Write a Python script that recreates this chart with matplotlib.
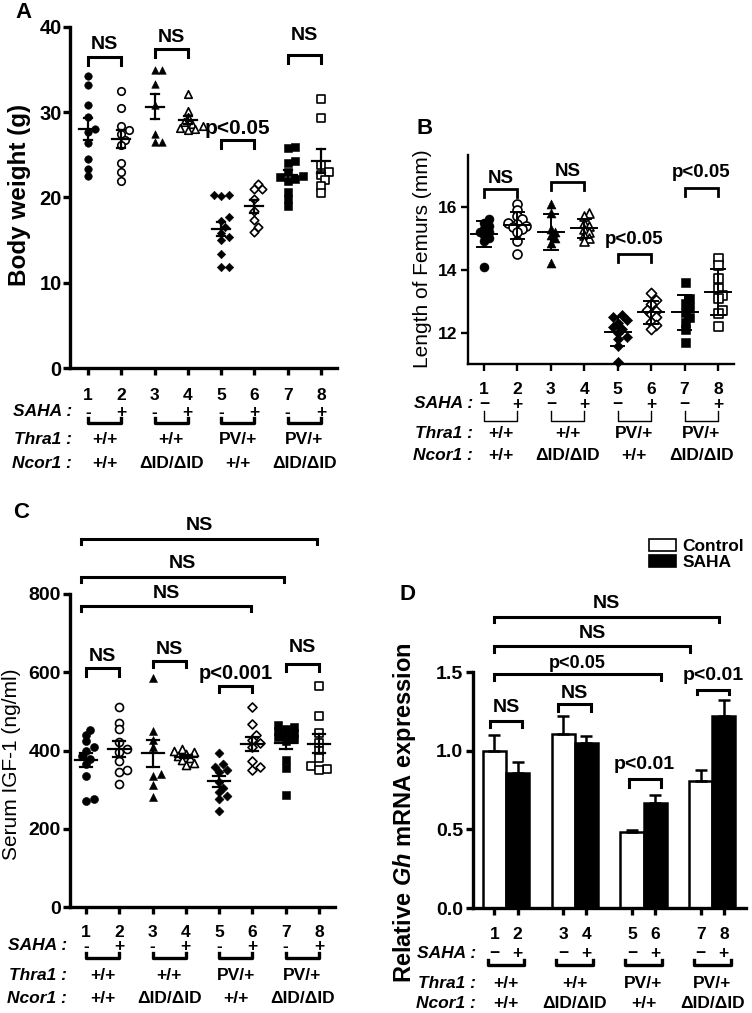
import numpy as np
import matplotlib
matplotlib.use('Agg')
import matplotlib.pyplot as plt
import matplotlib.transforms as mtransforms
from matplotlib.patches import Patch

plt.rcParams['font.family'] = ['Liberation Sans', 'DejaVu Sans']
plt.rcParams['mathtext.fontset'] = 'custom'
plt.rcParams['mathtext.rm'] = 'Liberation Sans:bold'
plt.rcParams['mathtext.it'] = 'Liberation Sans:italic:bold'

W, H = 752, 1013

# ---- shared labels ----
groups = [1, 2, 3, 4, 5, 6, 7, 8]
saha = ['-', '+', '-', '+', '-', '+', '-', '+']
thra1 = ['+/+', '+/+', 'PV/+', 'PV/+']
ncor1 = ['+/+', 'ΔID/ΔID', '+/+', 'ΔID/ΔID']

# ---- A: body weight (g) ----
bw_g1 = [34.2, 33.2, 30.9, 29.4, 28.0, 27.7, 26.4, 24.5, 23.4, 22.5]
bw_g2 = [32.5, 30.5, 28.4, 27.9, 27.5, 26.7, 26.1, 24.0, 23.0, 21.9]
bw_g3 = [34.9, 34.9, 33.3, 30.9, 27.5, 26.5, 26.5]
bw_g4 = [32.1, 30.2, 29.4, 28.8, 28.6, 28.4, 28.2, 28.0, 27.9]
bw_g5 = [20.3, 20.3, 20.2, 17.7, 17.2, 16.5, 15.8, 15.4, 15.0, 13.4, 11.9, 11.9]
bw_g6 = [21.6, 21.0, 21.0, 19.8, 18.4, 17.4, 16.5, 15.9]
bw_g7 = [25.9, 25.8, 24.3, 24.1, 23.0, 22.5, 22.4, 22.2, 21.9, 20.7, 19.8, 19.0]
bw_g8 = [31.6, 29.3, 23.8, 23.0, 22.6, 22.0, 21.4, 20.5]

# ---- B: femur length (mm) ----
fl_g1 = [15.6, 15.5, 15.4, 15.3, 15.2, 15.2, 15.1, 15.0, 14.9, 14.1]
fl_g2 = [16.1, 15.9, 15.7, 15.6, 15.5, 15.45, 15.4, 15.35, 15.3, 15.2, 14.9, 14.5]
fl_g3 = [16.1, 15.8, 15.3, 15.2, 15.1, 15.0, 14.85, 14.2]
fl_g4 = [15.8, 15.7, 15.5, 15.4, 15.3, 15.2, 15.1, 15.0, 14.9]
fl_g5 = [12.57, 12.48, 12.41, 12.32, 12.19, 12.1, 12.0, 11.87, 11.78, 11.56, 11.05]
fl_g6 = [13.27, 13.05, 12.9, 12.73, 12.7, 12.6, 12.5, 12.35, 12.25, 12.1]
fl_g7 = [13.6, 13.1, 12.95, 12.8, 12.67, 12.5, 12.35, 12.1, 11.7]
fl_g8 = [14.38, 14.16, 13.75, 13.43, 13.2, 13.1, 12.73, 12.62, 12.2]

# ---- C: serum IGF-1 (ng/ml) ----
igf_g1 = [452, 440, 425, 410, 400, 385, 378, 365, 335, 272, 275]
igf_g2 = [512, 470, 455, 421, 404, 396, 374, 349, 345, 315]
igf_g3 = [585, 451, 428, 410, 340, 336, 311, 280]
igf_g4 = [405, 398, 395, 392, 386, 380, 375, 368, 362]
igf_g5 = [393, 366, 358, 350, 345, 320, 305, 294, 283, 275, 245]
igf_g6 = [511, 468, 440, 428, 418, 410, 374, 357, 349]
igf_g7 = [465, 460, 455, 450, 445, 440, 435, 430, 425, 375, 355, 285]
igf_g8 = [565, 489, 445, 420, 400, 380, 360, 352, 350]

# ---- D: relative Gh mRNA ----
gh_mean = [1.0, 0.857, 1.108, 1.05, 0.48, 0.67, 0.81, 1.22]
gh_err = [0.10, 0.07, 0.11, 0.045, 0.017, 0.05, 0.07, 0.10]

markers = [('o', True), ('o', False), ('^', True), ('^', False),
           ('D', True), ('D', False), ('s', True), ('s', False)]

fig = plt.figure(figsize=(W / 100, H / 100), dpi=100)


def add_axes_px(l, t, r, b):
    return fig.add_axes([l / W, 1 - b / H, (r - l) / W, (b - t) / H])


def style_axes(ax, lw, fs, pad):
    for s in ['top', 'right']:
        ax.spines[s].set_visible(False)
    for s in ['left', 'bottom']:
        ax.spines[s].set_linewidth(lw)
    ax.tick_params(direction='out', length=5, width=lw, labelsize=fs, pad=pad)
    for t in ax.get_yticklabels():
        t.set_fontweight('bold')


def swarm(ax, x0, ys, d, tight=0.8):
    # simple deterministic beeswarm in pixel space
    pts = ax.transData.transform(np.column_stack([np.full(len(ys), x0), ys]))
    ref = ax.transData.transform([(x0, 0), (x0 + 1, 0)])
    unit = ref[1, 0] - ref[0, 0]
    step = d * 0.5
    placed = []
    offs = np.zeros(len(ys))
    for i in np.argsort(ys):
        py = pts[i, 1]
        off = 0
        for k in range(60):
            off = step * ((k + 1) // 2) * (1 if k % 2 else -1)
            if all((off - o) ** 2 + (py - q) ** 2 >= (tight * d) ** 2 for o, q in placed):
                break
        placed.append((off, py))
        offs[i] = off
    return x0 + offs / unit


def dot_panel(ax, data, d_px, mean_hw, cap_hw, err='sem', lw=1.5, tight=0.8):
    for i, vals in enumerate(data):
        x0 = groups[i]
        vals = np.array(vals, dtype=float)
        xs = swarm(ax, x0, vals, d_px, tight)
        mk, filled = markers[i]
        size = d_px * 0.72 * (0.8 if mk == 'D' else 1.0)
        ax.scatter(xs, vals, s=size ** 2, marker=mk,
                   facecolors='k' if filled else 'white', edgecolors='k',
                   linewidths=0.4 if filled else 1.2, zorder=3, clip_on=False)
        m = vals.mean()
        e = vals.std(ddof=1)
        if err == 'sem':
            e = e / np.sqrt(len(vals))
        ax.plot([x0 - mean_hw, x0 + mean_hw], [m, m], color='k', lw=lw, zorder=4)
        ax.plot([x0, x0], [m - e, m + e], color='k', lw=lw, zorder=4)
        for yy in (m - e, m + e):
            ax.plot([x0 - cap_hw, x0 + cap_hw], [yy, yy], color='k', lw=lw, zorder=4)


def bracket(ax, x1, x2, y, y0, label, ty, fs=14, lw=2.2):
    ax.plot([x1, x1, x2, x2], [y0, y, y, y0], color='k', lw=lw, clip_on=False,
            solid_joinstyle='miter')
    ax.text((x1 + x2) / 2, ty, label, ha='center', va='center', fontsize=fs,
            fontweight='bold', clip_on=False)


def bottom_rows(ax, xs, rows_px, label_right, minus, brk_h, brk_lw, ext=0.0, fs=12.5):
    tr = mtransforms.blended_transform_factory(ax.transData, fig.transFigure)
    y_num, y_saha, y_brk, y_thra, y_ncor = [1 - v / H for v in rows_px]
    h = brk_h / H
    for x, g, s in zip(xs, groups, saha):
        ax.text(x, y_num, str(g), transform=tr, ha='center', va='center',
                fontsize=fs, fontweight='bold')
        ax.text(x, y_saha, s.replace('-', minus), transform=tr, ha='center',
                va='center', fontsize=fs, fontweight='bold')
    for p in range(4):
        x1, x2 = xs[2 * p] - ext, xs[2 * p + 1] + ext
        ax.plot([x1, x1, x2, x2], [y_brk + h, y_brk, y_brk, y_brk + h], color='k',
                lw=brk_lw, transform=tr, clip_on=False)
        xc = (xs[2 * p] + xs[2 * p + 1]) / 2
        ax.text(xc, y_thra, thra1[p], transform=tr, ha='center', va='center',
                fontsize=fs, fontweight='bold')
        ax.text(xc, y_ncor, ncor1[p], transform=tr, ha='center', va='center',
                fontsize=fs, fontweight='bold')
    for lab, yy in [('SAHA :', y_saha), ('Thra1 :', y_thra), ('Ncor1 :', y_ncor)]:
        fig.text(label_right / W, yy, lab, ha='right', va='center', fontsize=fs,
                 fontweight='bold', style='italic')


# ================= Panel A =================
axA = add_axes_px(70, 27, 337, 368)
axA.set_xlim(0.46, 8.48)
axA.set_ylim(0, 40)
axA.set_yticks([0, 10, 20, 30, 40])
axA.set_xticks(groups)
axA.set_xticklabels([])
style_axes(axA, 2.4, 14.5, 1)
dot_panel(axA, [bw_g1, bw_g2, bw_g3, bw_g4, bw_g5, bw_g6, bw_g7, bw_g8],
          7.5, 0.27, 0.12, 'sem', 1.6)
bracket(axA, 1, 2, 36.5, 35.6, 'NS', 37.9)
bracket(axA, 3, 4, 37.4, 36.5, 'NS', 38.8)
bracket(axA, 5, 6, 26.7, 25.8, 'p<0.05', 28.1, fs=15)
bracket(axA, 7, 8, 36.7, 35.8, 'NS', 39.0)
bottom_rows(axA, groups, [395, 412, 423, 440, 463], 72, '-', 5, 2.4)
fig.text(20 / W, 1 - 195 / H, 'Body weight (g)', rotation=90, ha='center',
         va='center', fontsize=17.5, fontweight='bold')
fig.text(23 / W, 1 - 13 / H, 'A', ha='center', va='center', fontsize=16,
         fontweight='bold')

# ================= Panel B =================
axB = add_axes_px(468, 155, 734, 364)
axB.set_xlim(0.52, 8.48)
axB.set_ylim(11.0, 17.65)
axB.set_yticks([12, 14, 16])
axB.set_xticks(groups)
axB.set_xticklabels([])
style_axes(axB, 1.7, 12.5, 3)
dot_panel(axB, [fl_g1, fl_g2, fl_g3, fl_g4, fl_g5, fl_g6, fl_g7, fl_g8],
          9, 0.39, 0.2, 'sd', 1.4, tight=0.6)
bracket(axB, 1, 2, 16.58, 16.32, 'NS', 16.9, fs=13.5, lw=2)
bracket(axB, 3, 4, 16.79, 16.53, 'NS', 17.14, fs=13.5, lw=2)
bracket(axB, 5, 6, 14.5, 14.24, 'p<0.05', 14.95, fs=13.5, lw=2)
bracket(axB, 7, 8, 16.6, 16.34, 'p<0.05', 17.1, fs=13.5, lw=2)
bottom_rows(axB, groups, [389, 404, 421, 433, 456], 473, '\u2212', 10, 1.0)
fig.text(423 / W, 1 - 259 / H, 'Length of Femurs (mm)', rotation=90, ha='center',
         va='center', fontsize=15)
fig.text(425 / W, 1 - 128 / H, 'B', ha='center', va='center', fontsize=16,
         fontweight='bold')

# ================= Panel C =================
axC = add_axes_px(70, 594, 335, 907)
axC.set_xlim(0.52, 8.48)
axC.set_ylim(0, 800)
axC.set_yticks([0, 200, 400, 600, 800])
axC.set_xticks(groups)
axC.set_xticklabels([])
style_axes(axC, 2.4, 14, 1.5)
dot_panel(axC, [igf_g1, igf_g2, igf_g3, igf_g4, igf_g5, igf_g6, igf_g7, igf_g8],
          8, 0.33, 0.18, 'sem', 1.6, tight=0.7)
bracket(axC, 0.85, 7.95, 940, 928, 'NS', 975)
bracket(axC, 0.85, 6.95, 843, 831, 'NS', 879)
bracket(axC, 0.85, 5.95, 770, 756, 'NS', 801)
bracket(axC, 1, 2, 610, 591, 'NS', 641)
bracket(axC, 3, 4, 630, 613, 'NS', 658)
bracket(axC, 5, 6, 564, 549, 'p<0.001', 598, fs=14.5)
bracket(axC, 7, 8, 621, 603, 'NS', 664)
bottom_rows(axC, groups, [932, 946, 958, 975, 998], 67, '-', 5, 2.4)
fig.text(12 / W, 1 - 764 / H, 'Serum IGF-1 (ng/ml)', rotation=90, ha='center',
         va='center', fontsize=15)
fig.text(21 / W, 1 - 512 / H, 'C', ha='center', va='center', fontsize=16,
         fontweight='bold')

# ================= Panel D =================
axD = add_axes_px(473, 672, 746, 908)
axD.set_xlim(-0.48, 3.49)
axD.set_ylim(0, 1.5)
axD.set_yticks([0.0, 0.5, 1.0, 1.5])
axD.set_yticklabels(['0.0', '0.5', '1.0', '1.5'])
bar_w = 0.336
xbar = np.ravel([[p - bar_w / 2, p + bar_w / 2] for p in range(4)])
axD.set_xticks(xbar)
axD.set_xticklabels([])
style_axes(axD, 2.4, 14, 2)
axD.bar(xbar, gh_mean, width=bar_w, color=['white', 'black'] * 4, edgecolor='k',
        linewidth=1.8, zorder=2)
axD.errorbar(xbar, gh_mean, yerr=[np.zeros(8), gh_err], fmt='none', ecolor='k',
             elinewidth=1.8, capsize=4, capthick=1.8, zorder=3)
bracket(axD, xbar[0], 3.1, 1.847, 1.82, 'NS', 1.937)
bracket(axD, xbar[0], 2.67, 1.664, 1.628, 'NS', 1.745)
bracket(axD, xbar[0], 2.25, 1.485, 1.447, 'p<0.05', 1.557, fs=13)
bracket(axD, xbar[0] - 0.07, xbar[1] + 0.07, 1.19, 1.149, 'NS', 1.277)
bracket(axD, xbar[2] - 0.07, xbar[3] + 0.07, 1.298, 1.255, 'NS', 1.366)
bracket(axD, xbar[4] - 0.05, xbar[5] + 0.08, 0.819, 0.77, 'p<0.01', 0.911)
bracket(axD, xbar[6] - 0.05, xbar[7] + 0.08, 1.387, 1.357, 'p<0.01', 1.479)
bottom_rows(axD, xbar, [934, 953, 965, 983, 1003], 476, '\u2212', 5, 2.4, ext=0.1)
fig.text(405 / W, 1 - 813 / H, r'Relative $\mathit{Gh}$ mRNA expression', rotation=90,
         ha='center', va='center', fontsize=17, fontweight='bold')
fig.text(408 / W, 1 - 594 / H, 'D', ha='center', va='center', fontsize=16,
         fontweight='bold')
handles = [Patch(facecolor='white', edgecolor='k', linewidth=1.2),
           Patch(facecolor='black', edgecolor='k', linewidth=1.2)]
fig.legend(handles, ['Control', 'SAHA'], loc='upper left',
           bbox_to_anchor=(640 / W, 1 - 530 / H), frameon=False,
           handlelength=1.6, handleheight=0.7, labelspacing=0.05, borderpad=0,
           handletextpad=0.35, prop={'weight': 'bold', 'size': 12.5})

fig.savefig('out.png', dpi=100)
